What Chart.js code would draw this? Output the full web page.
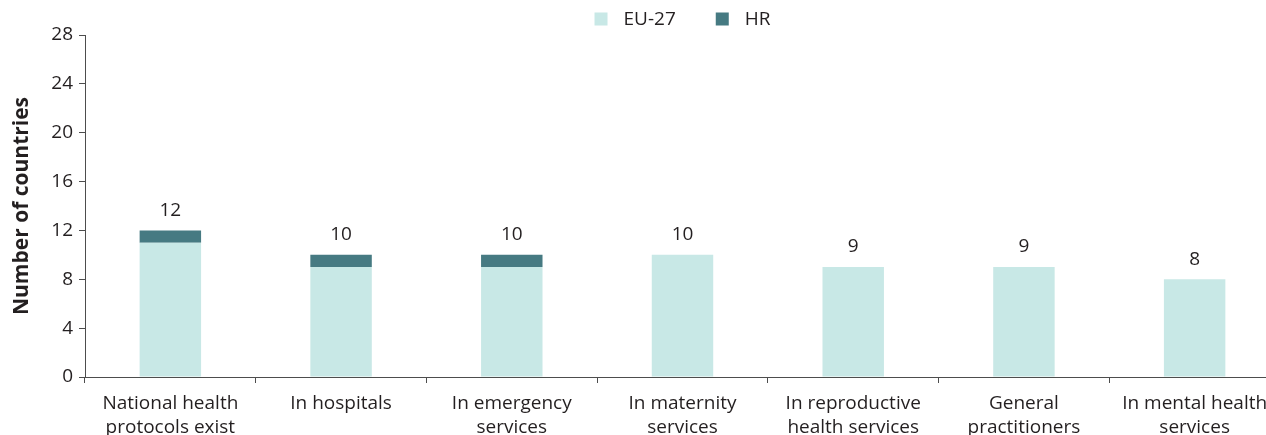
<!DOCTYPE html>
<html>
<head>
<meta charset="utf-8">
<script src="https://cdn.jsdelivr.net/npm/chart.js@4/dist/chart.umd.min.js"></script>
<style>
  html, body { margin: 0; padding: 0; background: #fff; overflow: hidden; }
  #wrap { position: relative; width: 1280px; height: 435px; }
</style>
</head>
<body>
<div id="wrap"><canvas id="chart"></canvas></div>
<script>
const categories = [
  ['National health', 'protocols exist'],
  ['In hospitals'],
  ['In emergency', 'services'],
  ['In maternity', 'services'],
  ['In reproductive', 'health services'],
  ['General', 'practitioners'],
  ['In mental health', 'services']
];
const euValues = [11, 9, 9, 10, 9, 9, 8];
const hrValues = [1, 1, 1, 0, 0, 0, 0];
const yTicks = [0, 4, 8, 12, 16, 20, 24, 28];

const textColor = '#231f20';
const axisColor = '#4d4d4d';
const fontFamily = '"Open Sans", "Noto Sans", sans-serif';

// totals written above each stacked bar
const totalLabels = {
  id: 'totalLabels',
  afterDatasetsDraw(chart) {
    const ctx = chart.ctx;
    const yScale = chart.scales.y;
    const meta0 = chart.getDatasetMeta(0);
    ctx.save();
    ctx.font = '19px ' + fontFamily;
    ctx.fillStyle = textColor;
    ctx.textAlign = 'center';
    ctx.textBaseline = 'middle';
    categories.forEach((c, i) => {
      const total = euValues[i] + hrValues[i];
      const x = meta0.data[i].x;
      const y = yScale.getPixelForValue(total) - 20;
      ctx.fillText(String(total), x, y);
    });
    ctx.restore();
  }
};

// legend centred over the plot area, square then label
const topLegend = {
  id: 'topLegend',
  afterDraw(chart) {
    const ctx = chart.ctx;
    const area = chart.chartArea;
    const box = 13, gap = 16, itemGap = 40, y = 19;
    ctx.save();
    ctx.font = '19px ' + fontFamily;
    const items = chart.data.datasets.map(ds => ({
      text: ds.label, color: ds.backgroundColor, w: ctx.measureText(ds.label).width
    }));
    let total = items.reduce((s, it) => s + box + gap + it.w, 0) + itemGap * (items.length - 1);
    let x = (area.left + area.right) / 2 - total / 2;
    ctx.textBaseline = 'middle';
    ctx.textAlign = 'left';
    items.forEach(it => {
      ctx.fillStyle = it.color;
      ctx.fillRect(x, y - box / 2, box, box);
      ctx.fillStyle = textColor;
      ctx.fillText(it.text, x + box + gap, y + 1);
      x += box + gap + it.w + itemGap;
    });
    ctx.restore();
  }
};

const ctx = document.getElementById('chart').getContext('2d');
new Chart(ctx, {
  type: 'bar',
  data: {
    labels: categories,
    datasets: [
      {
        label: 'EU-27',
        data: euValues,
        backgroundColor: '#c8e8e6',
        barPercentage: 0.36,
        categoryPercentage: 1
      },
      {
        label: 'HR',
        data: hrValues,
        backgroundColor: '#467a82',
        barPercentage: 0.36,
        categoryPercentage: 1
      }
    ]
  },
  options: {
    responsive: true,
    maintainAspectRatio: false,
    animation: false,
    layout: { padding: { left: 0, right: 0, top: 35, bottom: 0 } },
    scales: {
      x: {
        stacked: true,
        grid: {
          display: true,
          drawOnChartArea: false,
          drawTicks: true,
          tickLength: 6,
          color: axisColor,
          offset: true
        },
        border: { display: true, color: axisColor, width: 1 },
        ticks: {
          color: textColor,
          font: { family: fontFamily, size: 19, lineHeight: 1.3 },
          padding: 8,
          maxRotation: 0,
          autoSkip: false
        },
        afterFit(scale) { scale.height = 58; }
      },
      y: {
        stacked: true,
        min: 0,
        max: 28,
        afterBuildTicks(scale) { scale.ticks = yTicks.map(v => ({ value: v })); },
        grid: {
          display: true,
          drawOnChartArea: false,
          drawTicks: true,
          tickLength: 6,
          color: axisColor
        },
        border: { display: true, color: axisColor, width: 1 },
        ticks: {
          color: textColor,
          font: { family: fontFamily, size: 19 },
          padding: 6
        },
        title: {
          display: true,
          text: 'Number of countries',
          color: textColor,
          font: { family: fontFamily, size: 21, weight: 'bold' },
          padding: { top: 9, bottom: 4 }
        },
        afterFit(scale) { scale.width = 85; }
      }
    },
    plugins: {
      legend: { display: false },
      tooltip: { enabled: false },
      title: { display: false }
    }
  },
  plugins: [totalLabels, topLegend]
});
</script>
</body>
</html>
